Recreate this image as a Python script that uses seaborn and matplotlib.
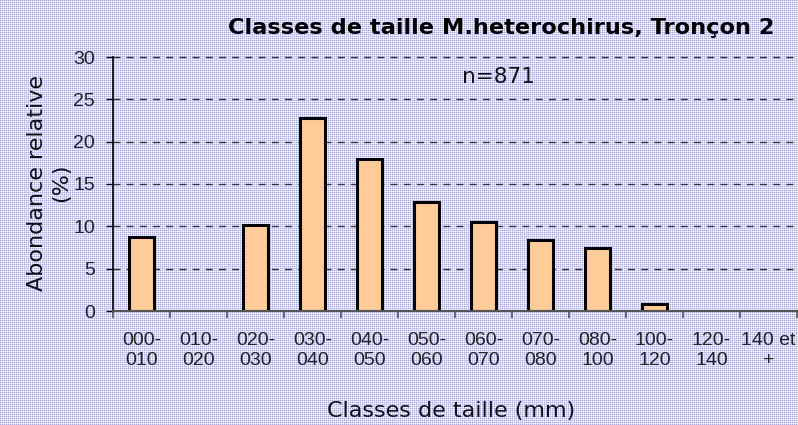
import numpy as np
import pandas as pd
import matplotlib
matplotlib.use("Agg")
import matplotlib.pyplot as plt
import seaborn as sns

# Size classes (mm) and relative abundance (%)
classes = ["000-\n010", "010-\n020", "020-\n030", "030-\n040", "040-\n050",
           "050-\n060", "060-\n070", "070-\n080", "080-\n100", "100-\n120",
           "120-\n140", "140 et\n+"]
abondance = [8.7, 0.0, 10.2, 22.8, 17.9, 12.9, 10.5, 8.4, 7.4, 0.8, 0.0, 0.0]
y_ticks = [0, 5, 10, 15, 20, 25, 30]

titre = "Classes de taille M.heterochirus, Tronçon 2"
effectif = "n=871"

sns.set_theme(style="white")
plt.rcParams["font.family"] = ["DejaVu Sans"]

W, H = 798, 425
fig = plt.figure(figsize=(W / 100, H / 100), dpi=100)

# Dotted lavender backdrop pattern over the whole figure
yy, xx = np.mgrid[0:H, 0:W]
white = np.array([255, 255, 255]) / 255
mid = np.array([0xD6, 0xD6, 0xEF]) / 255
dark = np.array([0xAE, 0xAE, 0xDC]) / 255
bg = np.empty((H, W, 3))
bg[:] = mid
bg[(xx % 2 == 1) & (yy % 2 == 1)] = white
bg[(xx % 2 == 0) & (yy % 2 == 0)] = dark
fig.figimage(bg, xo=0, yo=0, zorder=-10)
fig.patch.set_alpha(0)

ax = fig.add_axes([113 / W, 1 - 311 / H, 684 / W, 254 / H])
ax.patch.set_alpha(0)

df = pd.DataFrame({"classe": classes,
                   "abondance": [v if v > 0 else np.nan for v in abondance]})

sns.barplot(data=df, x="classe", y="abondance", order=classes,
            color="#FFCC99", saturation=1, width=0.45,
            edgecolor="black", linewidth=2.2, ax=ax, zorder=3)

ax.set_xlim(-0.5, len(classes) - 0.5)
ax.set_ylim(0, 30)
ax.set_yticks(y_ticks)
ax.set_yticklabels([str(t) for t in y_ticks])

# Dashed horizontal gridlines
for t in y_ticks[1:]:
    ax.axhline(t, color="#333333", lw=1.0, ls=(0, (5, 4.5)), zorder=1,
               clip_on=False)

# Category boundaries carry the x ticks; labels sit at the centres
ax.set_xticks(np.arange(len(classes)))
ax.set_xticklabels(classes, linespacing=1.25)
for lab in ax.get_xticklabels():
    lab.set_fontfamily("Liberation Sans")
    lab.set_fontsize(14)
    lab.set_color("#222222")
ax.set_xticks(np.arange(-0.5, len(classes), 1), minor=True)
ax.tick_params(axis="x", which="major", length=0, pad=15)
ax.tick_params(axis="x", which="minor", length=5, width=1.2,
               color="#555555", direction="out", bottom=True)
ax.tick_params(axis="y", which="major", length=5, width=1.0, color="black",
               direction="out", left=True, pad=8)
for lab in ax.get_yticklabels():
    lab.set_fontfamily("Liberation Sans")
    lab.set_fontsize(14)
    lab.set_color("#222222")

for side in ["top", "right"]:
    ax.spines[side].set_visible(False)
ax.spines["left"].set_color("black")
ax.spines["left"].set_linewidth(1.2)
ax.spines["bottom"].set_color("#555555")
ax.spines["bottom"].set_linewidth(1.5)
ax.spines["left"].set_zorder(4)
ax.spines["bottom"].set_zorder(4)

ax.set_xlabel("")
ax.set_ylabel("")

fig.text(501 / W, 1 - 28 / H, titre, ha="center", va="center",
         fontsize=16.2, fontweight="bold", color="black")
ax.text((498 - 113) / 684, (311 - 77) / 254, effectif, transform=ax.transAxes,
        ha="center", va="center", fontsize=15.5, color="#111111")
fig.text(451 / W, 1 - 411 / H, "Classes de taille (mm)", ha="center",
         va="center", fontsize=16, color="#111111")
fig.text(49 / W, 1 - 183 / H, "Abondance relative\n(%)", ha="center",
         va="center", rotation=90, fontsize=16, color="#111111",
         linespacing=1.3)

fig.savefig("out.png", dpi=100)
